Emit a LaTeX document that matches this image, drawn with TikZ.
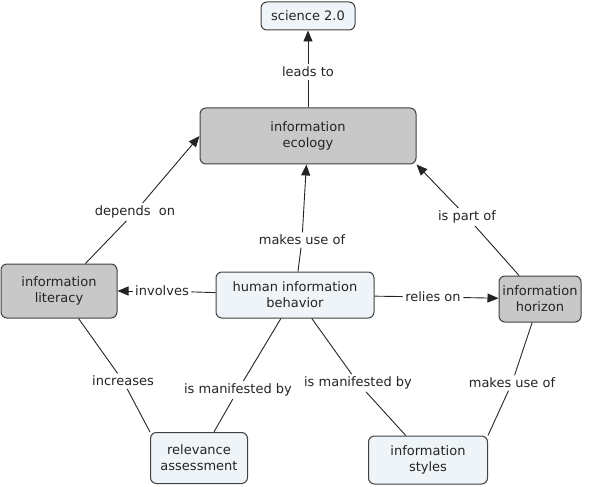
\documentclass[tikz,border=0pt]{standalone}
\usepackage{fontspec}
\setmainfont{DejaVu Sans}
\usetikzlibrary{shapes, arrows.meta, positioning, calc}
\definecolor{conceptlight}{RGB}{238,244,248}
\definecolor{conceptgray}{RGB}{200,200,200}
\definecolor{borderdark}{RGB}{64,64,64}
\definecolor{linkdark}{RGB}{36,36,36}

\begin{document}
\begin{tikzpicture}[
        x=1pt, y=-1pt,
        every node/.style={align=center, font=\fontsize{13}{16}\selectfont, text=linkdark},
        concept/.style={rectangle, rounded corners=6pt, draw=borderdark, fill=conceptlight,
                        line width=1pt, inner sep=2pt},
        keyconcept/.style={concept, fill=conceptgray},
        linkword/.style={inner sep=2.5pt},
        link/.style={draw=linkdark, line width=0.9pt},
        linkto/.style={link, -{Triangle[length=11pt,width=9pt]}}
    ]
        \useasboundingbox (0,0) rectangle (598,487);

        % Concepts placed at explicit coordinates
        \node [concept, minimum width=94pt, minimum height=28pt] (science) at (308,16) {science 2.0};
        \node [keyconcept, minimum width=216pt, minimum height=56pt] (ecology) at (308,136) {information\\ecology};
        \node [keyconcept, minimum width=116pt, minimum height=54pt] (literacy) at (59,291) {information\\literacy};
        \node [concept, minimum width=158pt, minimum height=46pt] (behavior) at (295,295) {human information\\behavior};
        \node [keyconcept, minimum width=82pt, minimum height=46pt] (horizon) at (540,299) {information\\horizon};
        \node [concept, minimum width=97pt, minimum height=51pt] (relevance) at (199,458) {relevance\\assessment};
        \node [concept, minimum width=119pt, minimum height=48pt] (styles) at (428,460) {information\\styles};

        % Linking phrases
        \node [linkword] (leads) at (308,72) {leads to};
        \node [linkword] (depends) at (135,212) {depends\ \ on};
        \node [linkword] (usesA) at (302,240) {makes use of};
        \node [linkword] (partof) at (467,217) {is part of};
        \node [linkword] (involves) at (162,291) {involves};
        \node [linkword] (relies) at (433,297) {relies on};
        \node [linkword] (increases) at (123,381) {increases};
        \node [linkword] (manifestA) at (238,390) {is manifested by};
        \node [linkword] (manifestB) at (358,383) {is manifested by};
        \node [linkword] (usesB) at (512,383) {makes use of};

        % Ecology -> science
        \draw[link] (ecology) -- (leads);
        \draw[linkto] (leads) -- (science);

        % Literacy -> ecology
        \draw[link] (literacy) -- (depends);
        \draw[linkto] (depends) -- (ecology.west);

        % Behavior -> ecology
        \draw[link] (behavior) -- (usesA);
        \draw[linkto] (usesA) -- (ecology);

        % Horizon -> ecology
        \draw[link] (horizon) -- (partof);
        \draw[linkto] (partof) -- (ecology.south east);

        % Behavior -> literacy / horizon
        \draw[link] (behavior) -- (involves);
        \draw[linkto] (involves) -- (literacy);
        \draw[link] (behavior) -- (relies);
        \draw[linkto] (relies) -- (horizon);

        % Lower links, no arrow heads
        \draw[link] (literacy) -- (increases);
        \draw[link] (increases) -- (relevance.north west);
        \draw[link] (behavior) -- (manifestA);
        \draw[link] (manifestA) -- (relevance);
        \draw[link] (behavior) -- (manifestB);
        \draw[link] (manifestB) -- (styles);
        \draw[link] (horizon) -- (usesB);
        \draw[link] (usesB) -- (styles.north east);
    \end{tikzpicture}
\end{document}
